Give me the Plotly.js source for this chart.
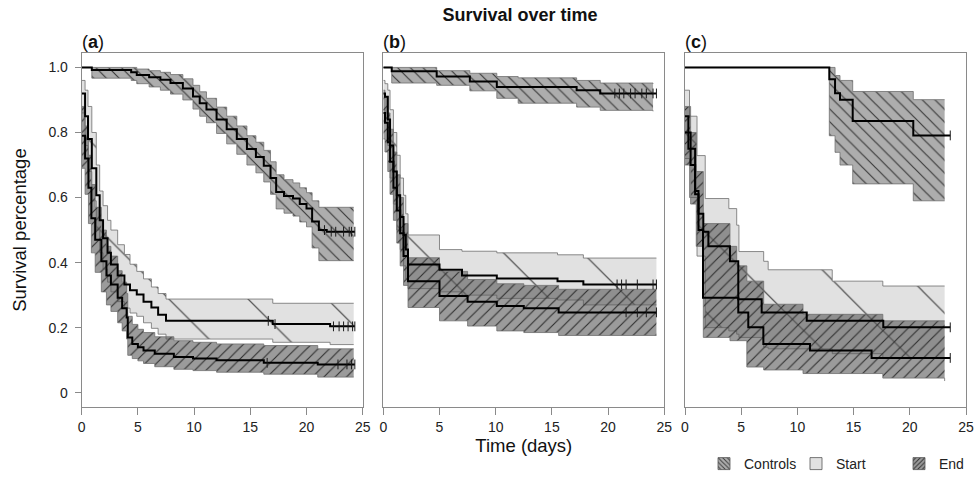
<!DOCTYPE html>
<html><head><meta charset="utf-8">
<script src="https://cdn.plot.ly/plotly-3.0.1.min.js"></script>
<style>html,body{margin:0;padding:0;background:#fff}#chart{width:975px;height:480px}</style>
</head><body><div id="chart"></div><script>
// ---------- DATA ----------
// Panel (a)
const a_ctrl_t  = [0, 0.9, 4.4, 4.9, 6.0, 7.0, 7.9, 9.0, 9.9, 10.5, 11.1, 12.0, 12.9, 13.8, 14.7, 15.5, 16.2, 16.8, 17.3, 18.0, 18.8, 19.4, 20.0, 20.5, 21.1, 21.8, 24.2];
const a_ctrl_s  = [1.0, 0.992, 0.985, 0.977, 0.97, 0.962, 0.952, 0.935, 0.911, 0.89, 0.871, 0.84, 0.81, 0.78, 0.749, 0.725, 0.698, 0.66, 0.617, 0.605, 0.597, 0.58, 0.566, 0.526, 0.50, 0.495, 0.495];
const a_ctrl_up = [1.0, 1.0, 1.0, 0.995, 0.99, 0.985, 0.978, 0.965, 0.945, 0.925, 0.905, 0.878, 0.85, 0.82, 0.79, 0.77, 0.745, 0.71, 0.67, 0.655, 0.645, 0.63, 0.615, 0.59, 0.57, 0.57, 0.57];
const a_ctrl_lo = [1.0, 0.967, 0.96, 0.95, 0.94, 0.93, 0.918, 0.9, 0.872, 0.85, 0.83, 0.797, 0.765, 0.733, 0.70, 0.676, 0.648, 0.61, 0.565, 0.552, 0.543, 0.525, 0.51, 0.445, 0.406, 0.406, 0.406];
const a_ctrl_cens = [21.6, 22.2, 22.6, 23.3, 23.8, 24.0, 24.3];

const a_start_t  = [0, 0.3, 0.56, 0.9, 1.3, 1.6, 1.9, 2.3, 2.6, 3.2, 3.8, 4.3, 4.9, 5.5, 6.2, 6.8, 7.5, 17.0, 22.1, 24.2];
const a_start_s  = [0.92, 0.85, 0.78, 0.69, 0.607, 0.53, 0.475, 0.43, 0.394, 0.36, 0.333, 0.315, 0.302, 0.28, 0.262, 0.24, 0.221, 0.211, 0.204, 0.204];
const a_start_up = [0.96, 0.93, 0.88, 0.80, 0.70, 0.62, 0.575, 0.53, 0.50, 0.455, 0.425, 0.395, 0.373, 0.35, 0.325, 0.305, 0.288, 0.275, 0.275, 0.275];
const a_start_lo = [0.86, 0.76, 0.68, 0.59, 0.50, 0.43, 0.38, 0.34, 0.31, 0.28, 0.26, 0.245, 0.235, 0.215, 0.198, 0.18, 0.165, 0.155, 0.148, 0.148];
const a_start_cens = [16.6, 17.2, 22.4, 22.9, 23.3, 23.7, 24.1, 24.3];

const a_end_t  = [0, 0.3, 0.6, 0.86, 1.2, 1.75, 2.2, 2.6, 3.2, 3.6, 4.0, 4.1, 4.5, 5.0, 5.5, 6.5, 8.2, 9.9, 12.0, 16.2, 21.0, 24.2];
const a_end_s  = [0.79, 0.72, 0.63, 0.536, 0.47, 0.404, 0.36, 0.333, 0.292, 0.26, 0.231, 0.17, 0.15, 0.14, 0.13, 0.12, 0.11, 0.105, 0.10, 0.092, 0.087, 0.087];
const a_end_up = [0.88, 0.82, 0.73, 0.64, 0.57, 0.50, 0.45, 0.42, 0.375, 0.34, 0.305, 0.235, 0.21, 0.195, 0.185, 0.172, 0.16, 0.155, 0.15, 0.145, 0.135, 0.135];
const a_end_lo = [0.69, 0.61, 0.52, 0.43, 0.37, 0.31, 0.27, 0.25, 0.215, 0.19, 0.165, 0.115, 0.105, 0.098, 0.09, 0.08, 0.072, 0.068, 0.063, 0.057, 0.048, 0.048];
const a_end_cens = [16.5, 22.8, 23.6, 24.0, 24.3];

// Panel (b)
const b_ctrl_t  = [0, 0.75, 4.75, 7.7, 10.1, 12.0, 17.2, 19.3, 24.0];
const b_ctrl_s  = [1.0, 0.988, 0.972, 0.957, 0.94, 0.94, 0.93, 0.92, 0.92];
const b_ctrl_up = [1.0, 1.0, 0.99, 0.982, 0.972, 0.968, 0.96, 0.952, 0.95];
const b_ctrl_lo = [1.0, 0.952, 0.945, 0.928, 0.905, 0.89, 0.878, 0.868, 0.865];
const b_ctrl_cens = [20.6, 21.0, 21.4, 22.0, 22.4, 23.0, 23.4, 24.0, 24.3];

const b_start_t  = [0, 0.15, 0.4, 0.6, 0.9, 1.2, 1.5, 1.8, 2.0, 2.2, 5.0, 7.0, 10.1, 15.5, 17.8, 24.3];
const b_start_s  = [0.92, 0.91, 0.84, 0.76, 0.68, 0.607, 0.54, 0.485, 0.44, 0.394, 0.378, 0.36, 0.351, 0.343, 0.333, 0.333];
const b_start_up = [0.96, 0.95, 0.93, 0.87, 0.80, 0.73, 0.66, 0.607, 0.55, 0.485, 0.44, 0.435, 0.43, 0.424, 0.414, 0.414];
const b_start_lo = [0.87, 0.86, 0.76, 0.66, 0.58, 0.50, 0.44, 0.39, 0.35, 0.32, 0.31, 0.30, 0.29, 0.285, 0.27, 0.27];
const b_start_cens = [20.8, 21.2, 21.6, 22.6, 24.0, 24.3];

const b_end_t  = [0, 0.15, 0.4, 0.6, 0.9, 1.2, 1.5, 1.8, 2.2, 5.0, 7.5, 10.1, 12.5, 15.6, 24.3];
const b_end_s  = [0.86, 0.83, 0.77, 0.71, 0.63, 0.56, 0.49, 0.42, 0.343, 0.297, 0.28, 0.267, 0.26, 0.247, 0.247];
const b_end_up = [0.93, 0.91, 0.86, 0.81, 0.74, 0.67, 0.60, 0.52, 0.415, 0.373, 0.348, 0.335, 0.33, 0.318, 0.318];
const b_end_lo = [0.78, 0.74, 0.68, 0.61, 0.53, 0.46, 0.39, 0.33, 0.262, 0.221, 0.205, 0.19, 0.185, 0.176, 0.176];
const b_end_cens = [21.6, 22.6, 23.4, 24.3];

// Panel (c)
const c_ctrl_t  = [0, 12.84, 13.35, 13.79, 14.92, 20.31, 23.1];
const c_ctrl_s  = [1.0, 0.964, 0.921, 0.901, 0.835, 0.791, 0.791];
const c_ctrl_up = [1.0, 1.0, 0.975, 0.96, 0.926, 0.901, 0.901];
const c_ctrl_lo = [1.0, 0.79, 0.739, 0.70, 0.642, 0.59, 0.59];
const c_ctrl_cens = [23.6];

const c_start_t  = [0, 0.3, 0.9, 1.2, 1.6, 4.74, 6.82, 10.83, 17.64, 23.1];
const c_start_s  = [0.85, 0.75, 0.61, 0.5, 0.292, 0.287, 0.247, 0.221, 0.201, 0.201];
const c_start_bt = [0, 0.4, 1.07, 1.8, 3.9, 4.6, 4.8, 7.0, 7.4, 13.1, 17.6, 23.1];
const c_start_up = [0.93, 0.85, 0.729, 0.597, 0.566, 0.515, 0.434, 0.404, 0.378, 0.343, 0.328, 0.328];
const c_start_lo = [0.72, 0.6, 0.42, 0.2, 0.19, 0.18, 0.17, 0.14, 0.135, 0.12, 0.105, 0.105];
const c_start_cens = [23.6];

const c_end_t  = [0, 0.5, 0.9, 1.2, 1.63, 2.08, 4.0, 4.74, 5.63, 6.97, 11.12, 16.6, 23.1];
const c_end_s  = [0.8, 0.7, 0.62, 0.55, 0.495, 0.45, 0.404, 0.247, 0.201, 0.15, 0.13, 0.107, 0.107];
const c_end_bt = [0, 0.5, 1.0, 1.63, 4.0, 4.6, 5.5, 7.0, 10.5, 17.6, 23.1];
const c_end_up = [0.88, 0.8, 0.68, 0.52, 0.45, 0.39, 0.343, 0.272, 0.241, 0.221, 0.221];
const c_end_lo = [0.7, 0.58, 0.45, 0.17, 0.16, 0.16, 0.079, 0.07, 0.059, 0.045, 0.036];
const c_end_cens = [23.6];

const groupNames = ['Controls', 'Start', 'End'];
const xTicks = [0, 5, 10, 15, 20, 25];
const yTicks = [0, 0.2, 0.4, 0.6, 0.8, 1.0];
const yTickText = ['0', '0.2', '0.4', '0.6', '0.8', '1.0'];
const panelLabels = ['a', 'b', 'c'];

// ---------- STYLES ----------
const FONT = 'Liberation Sans, Arial, Helvetica, sans-serif';
const styles = {
  Controls: {bg: 'rgba(150,150,150,0.78)', fg: '#3a3a3a', shape: '\\', size: 9, sol: 0.13},
  Start:    {bg: 'rgba(214,214,214,0.72)', fg: '#555555', shape: '\\', size: 56, sol: 0.022},
  End:      {bg: 'rgba(88,88,88,0.6)',     fg: '#2e2e2e', shape: '/',  size: 8, sol: 0.14}
};

function stepAt(t, s, x) {
  let v = s[0];
  for (let i = 0; i < t.length; i++) { if (t[i] <= x) v = s[i]; }
  return v;
}

const panels = [
  {xa: 'x',  ya: 'y',  groups: {
    Controls: {t: a_ctrl_t, s: a_ctrl_s, bt: a_ctrl_t, up: a_ctrl_up, lo: a_ctrl_lo, c: a_ctrl_cens},
    Start:    {t: a_start_t, s: a_start_s, bt: a_start_t, up: a_start_up, lo: a_start_lo, c: a_start_cens},
    End:      {t: a_end_t, s: a_end_s, bt: a_end_t, up: a_end_up, lo: a_end_lo, c: a_end_cens}}},
  {xa: 'x2', ya: 'y2', groups: {
    Controls: {t: b_ctrl_t, s: b_ctrl_s, bt: b_ctrl_t, up: b_ctrl_up, lo: b_ctrl_lo, c: b_ctrl_cens},
    Start:    {t: b_start_t, s: b_start_s, bt: b_start_t, up: b_start_up, lo: b_start_lo, c: b_start_cens},
    End:      {t: b_end_t, s: b_end_s, bt: b_end_t, up: b_end_up, lo: b_end_lo, c: b_end_cens}}},
  {xa: 'x3', ya: 'y3', groups: {
    Controls: {t: c_ctrl_t, s: c_ctrl_s, bt: c_ctrl_t, up: c_ctrl_up, lo: c_ctrl_lo, c: c_ctrl_cens},
    Start:    {t: c_start_t, s: c_start_s, bt: c_start_bt, up: c_start_up, lo: c_start_lo, c: c_start_cens},
    End:      {t: c_end_t, s: c_end_s, bt: c_end_bt, up: c_end_up, lo: c_end_lo, c: c_end_cens}}}
];

const traces = [];
const bandOrder = ['Start', 'End', 'Controls'];
panels.forEach(p => {
  bandOrder.forEach(g => {
    const d = p.groups[g], st = styles[g];
    traces.push({x: d.bt, y: d.lo, xaxis: p.xa, yaxis: p.ya, mode: 'lines', showlegend: false, hoverinfo: 'skip',
      line: {shape: 'hv', color: '#6e6e6e', width: 0.8}});
    traces.push({x: d.bt, y: d.up, xaxis: p.xa, yaxis: p.ya, mode: 'lines', fill: 'tonexty', showlegend: false, hoverinfo: 'skip',
      fillcolor: st.bg,
      fillpattern: {shape: st.shape, bgcolor: st.bg, fgcolor: st.fg, size: st.size, solidity: st.sol},
      line: {shape: 'hv', color: '#6e6e6e', width: 0.8}});
  });
  bandOrder.forEach(g => {
    const d = p.groups[g];
    const last = d.s[d.s.length - 1];
    const tEnd = Math.max(d.t[d.t.length - 1], ...d.c);
    traces.push({x: d.t.concat([tEnd]), y: d.s.concat([last]), xaxis: p.xa, yaxis: p.ya, mode: 'lines', showlegend: false,
      name: g, line: {shape: 'hv', color: '#000', width: 2}});
    traces.push({x: d.c, y: d.c.map(v => stepAt(d.t, d.s, v)), xaxis: p.xa, yaxis: p.ya, mode: 'markers', showlegend: false,
      hoverinfo: 'skip', marker: {symbol: 'line-ns', size: 7, color: '#000', line: {width: 1, color: '#1a1a1a'}}});
  });
});

// legend-only swatches, one legend per entry so each can be placed like the original
const legendIds = ['legend', 'legend2', 'legend3'];
groupNames.forEach((g, i) => {
  const st = styles[g];
  traces.push({type: 'bar', x: [null], y: [null], name: g, xaxis: 'x', yaxis: 'y', showlegend: true, hoverinfo: 'skip',
    legend: legendIds[i],
    marker: {color: st.bg, line: {color: '#555', width: 0.8},
      pattern: {shape: g === 'Start' ? '' : st.shape, bgcolor: st.bg, fgcolor: st.fg, size: 4, solidity: 0.3}}});
});

// ---------- LAYOUT ----------
const W = 975, H = 480;
const xDom = [[81.7, 362.7], [383.3, 664.3], [685, 966]].map(d => [d[0] / W, d[1] / W]);
const yDom = [1 - 411 / H, 1 - 54 / H];
const yRange = [-0.043, 1.043];

function xAxis(i) {
  return {domain: xDom[i], anchor: ['y', 'y2', 'y3'][i], range: [0, 25], tickvals: xTicks, ticks: 'outside', ticklen: 7,
    tickcolor: '#8a8a8a', showline: true, mirror: true, linecolor: '#8a8a8a', linewidth: 1, zeroline: false, showgrid: false,
    tickfont: {size: 14, color: '#222'}, fixedrange: true, automargin: false};
}
function yAxis(i) {
  const ax = {domain: yDom, anchor: ['x', 'x2', 'x3'][i], range: yRange, showline: true, mirror: true, linecolor: '#8a8a8a',
    linewidth: 1, zeroline: false, showgrid: false, fixedrange: true, automargin: false};
  if (i === 0) {
    Object.assign(ax, {tickvals: yTicks, ticktext: yTickText, ticks: 'outside', ticklen: 6, tickcolor: '#8a8a8a',
      tickfont: {size: 14, color: '#222'}, ticklabelstandoff: 4,
      title: {text: 'Survival percentage', font: {size: 18.5, color: '#111'}, standoff: 16}});
  } else {
    Object.assign(ax, {showticklabels: false, ticks: ''});
  }
  return ax;
}
const legendCenters = [724, 816, 919];
function legendBox(cx) {
  return {orientation: 'h', x: (cx - 20) / W, xanchor: 'left', y: 1 - 469 / H, yanchor: 'middle',
    font: {size: 14, color: '#222'}, itemwidth: 30, bgcolor: 'rgba(0,0,0,0)', borderwidth: 0};
}

const layout = {
  width: W, height: H, margin: {l: 0, r: 0, t: 0, b: 0}, paper_bgcolor: '#fff', plot_bgcolor: 'rgba(0,0,0,0)',
  font: {family: FONT, color: '#111'},
  title: {text: '<b>Survival over time</b>', x: 520 / W, xanchor: 'center', y: 1 - 15 / H, yanchor: 'middle',
    font: {size: 18, color: '#111'}},
  xaxis: xAxis(0), xaxis2: Object.assign(xAxis(1), {title: {text: 'Time (days)', font: {size: 18.5, color: '#111'}, standoff: 2}}),
  xaxis3: xAxis(2),
  yaxis: yAxis(0), yaxis2: yAxis(1), yaxis3: yAxis(2),
  showlegend: true,
  legend: legendBox(legendCenters[0]), legend2: legendBox(legendCenters[1]), legend3: legendBox(legendCenters[2]),
  annotations: panelLabels.map((l, i) => ({text: '(<b>' + l + '</b>)', xref: 'paper', yref: 'paper',
    x: xDom[i][0] - 2 / W, xanchor: 'left', y: 1 - 42 / H, yanchor: 'middle', showarrow: false, font: {size: 18, color: '#111'}}))
};

Plotly.newPlot('chart', traces, layout, {displayModeBar: false, staticPlot: true});
</script></body></html>
